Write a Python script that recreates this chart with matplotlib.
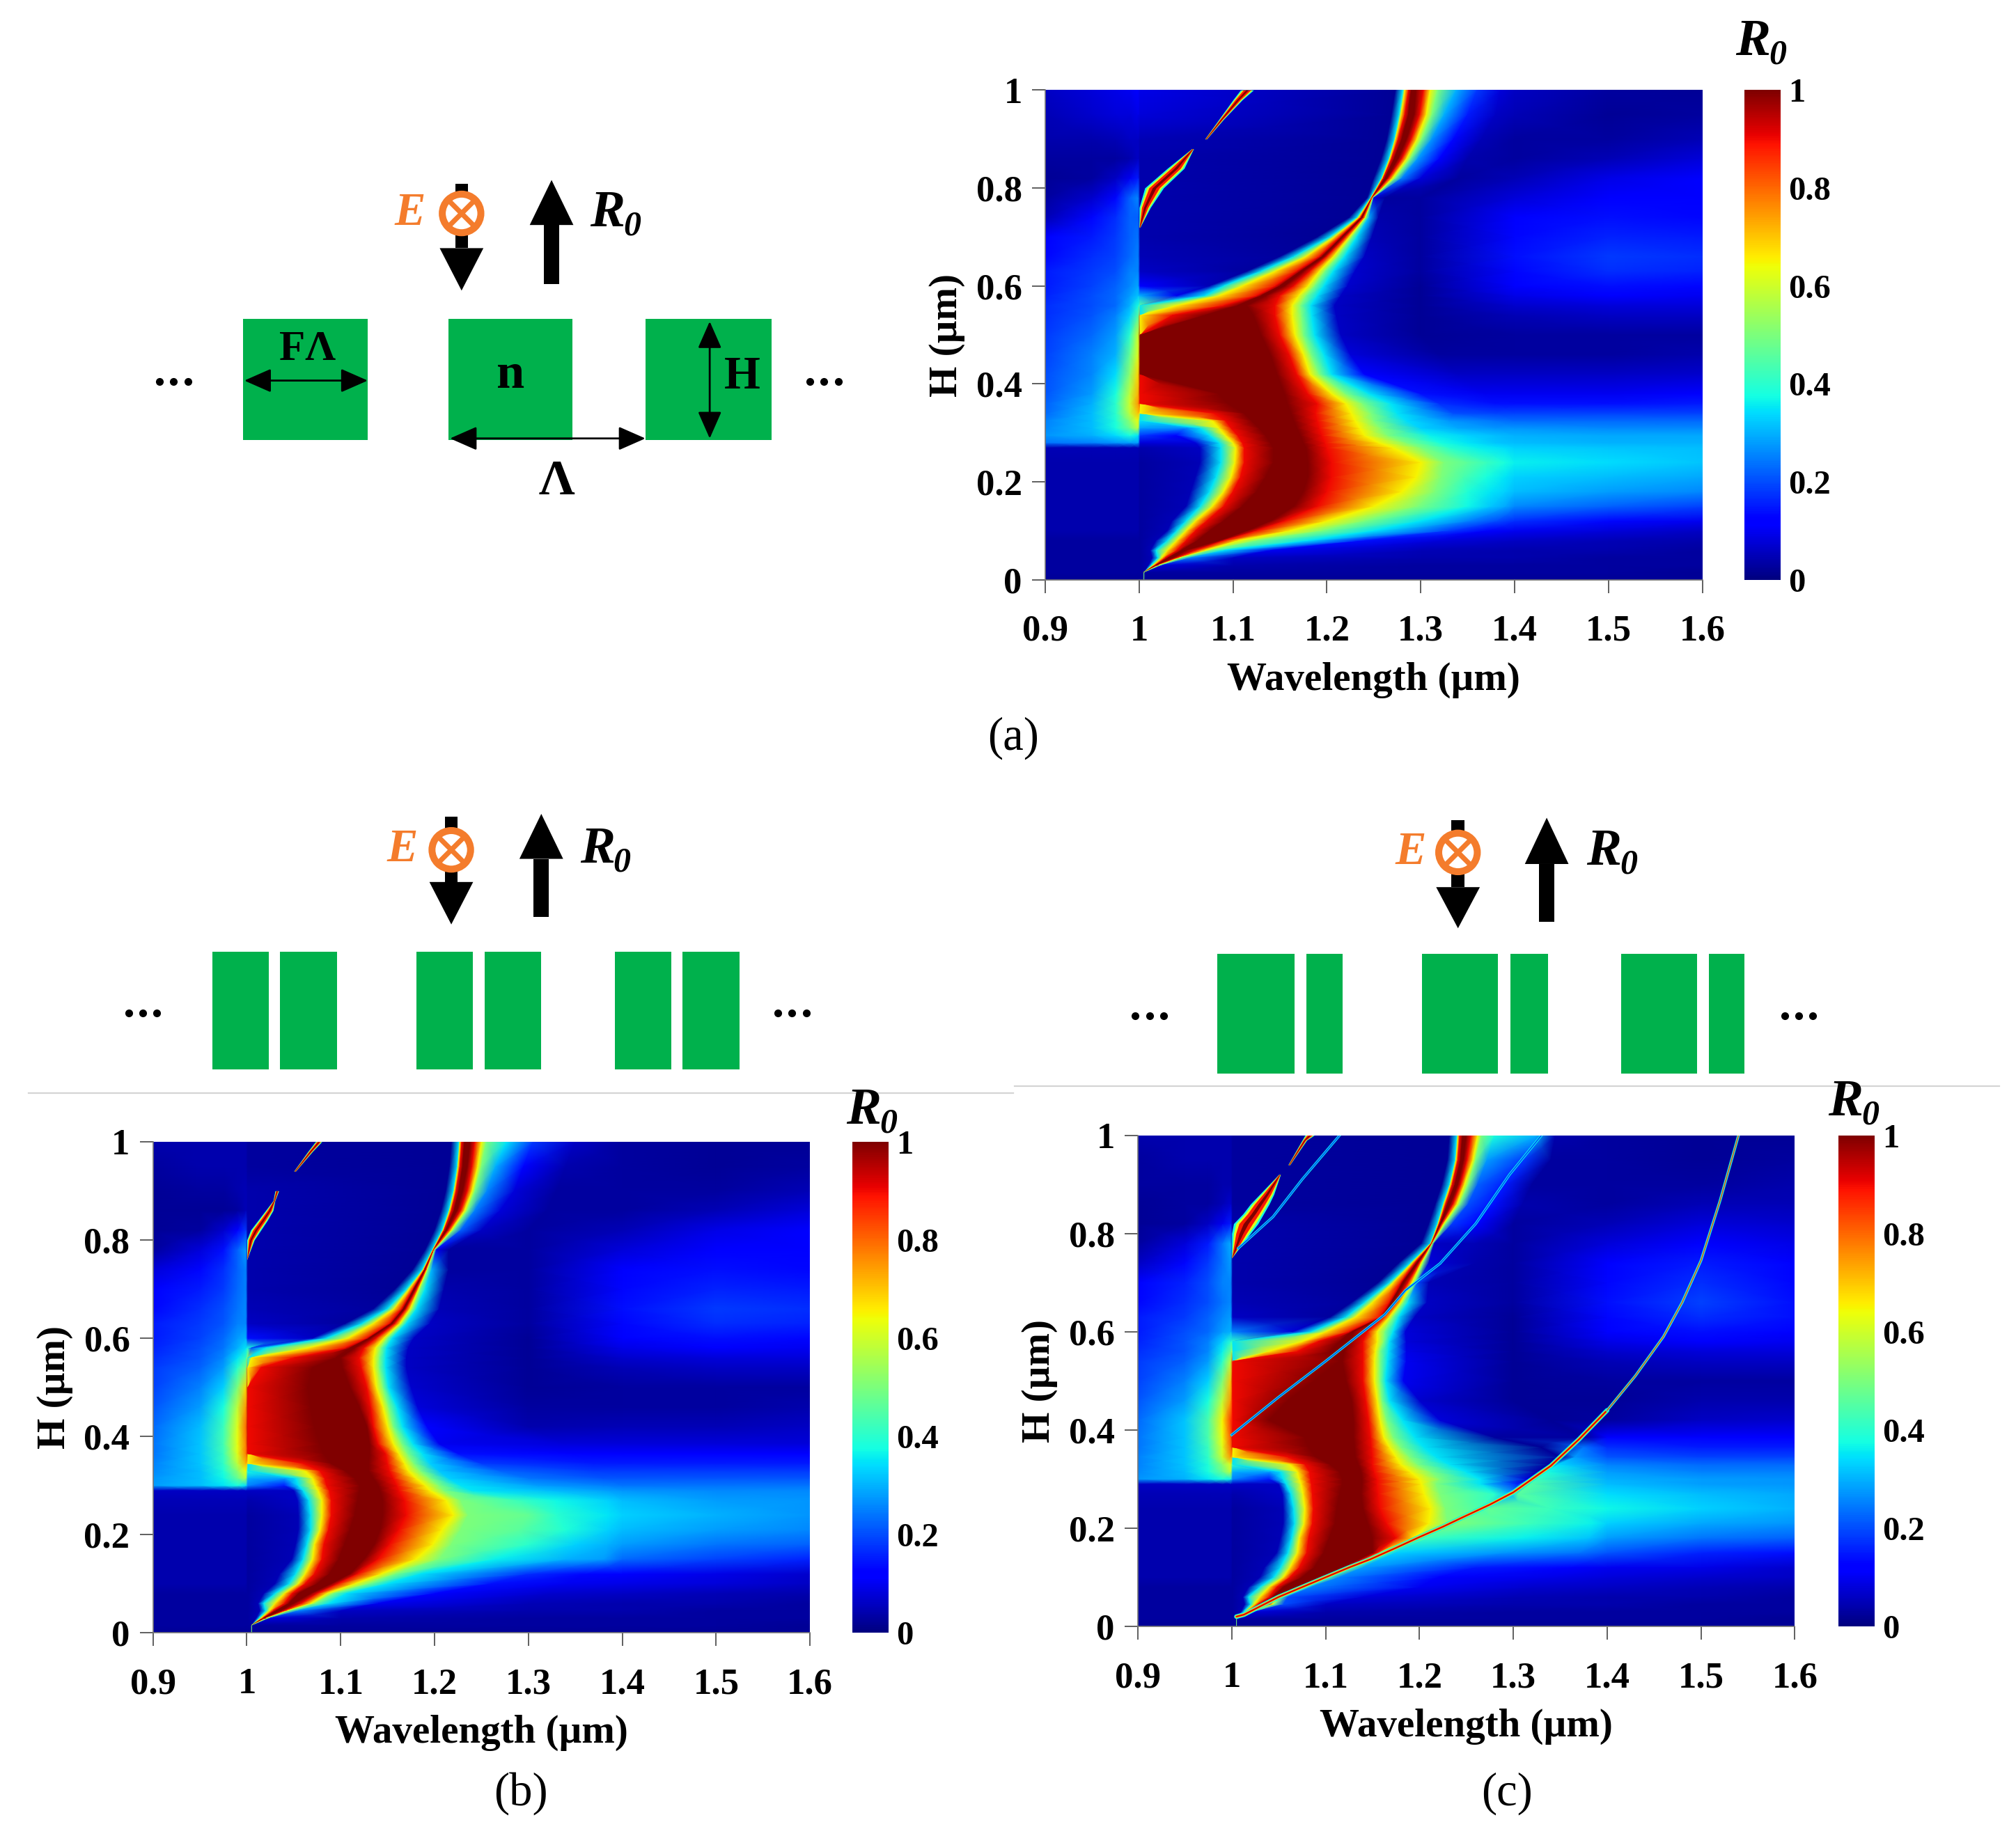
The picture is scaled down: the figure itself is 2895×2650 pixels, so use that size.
import numpy as np
import matplotlib
matplotlib.use("Agg")
import matplotlib.pyplot as plt
from matplotlib.patches import Rectangle, Polygon, Circle

plt.rcParams['font.family'] = ['Liberation Serif', 'DejaVu Serif']
plt.rcParams['font.weight'] = 'bold'
plt.rcParams['axes.labelweight'] = 'bold'

# H, R0 at left_lam, R0 at 1.001, R0 at first ridge knot,
# ridge knots (1000*(lam-1)) where R0 crosses ridge_levels,
# three free knots (1000*(lam-1), R0), R0 at field_lam
left_lam = [0.90, 0.95, 0.975, 0.99, 0.999]
ridge_levels = [35, 65, 90, 100, 100, 90, 65, 50]
field_lam = [1.40, 1.50, 1.60]

rows_a = [
    (0, [2, 2, 2, 2, 2], 2, 2, [5]*9, [6, 2, 100, 2, 300, 2], [2, 2, 2]),
    (.015, [3, 3, 3, 3, 3], 3, 3, [5]*9, [6, 3, 100, 3, 300, 3], [3, 3, 2]),
    (.03, [3, 3, 3, 3, 3], 3, 5, [10, 13, 15, 17, 18, 19, 20, 21, 22], [25, 8, 100, 4, 300, 3], [3, 3, 3]),
    (.045, [3, 3, 3, 3, 3], 3, 5, [14, 20, 24, 28, 31, 36, 40, 43, 45], [55, 25, 100, 6, 300, 4], [4, 3, 3]),
    (.06, [3, 3, 3, 3, 3], 3, 5, [12, 18, 30, 40, 45, 50, 60, 70, 75], [90, 35, 140, 10, 300, 5], [4, 4, 3]),
    (.08, [3, 3, 3, 3, 3], 3, 5, [18, 30, 40, 50, 62, 85, 90, 105, 125], [180, 35, 240, 14, 320, 8], [6, 5, 4]),
    (.10, [4, 4, 4, 4, 4], 3, 5, [30, 40, 50, 60, 75, 115, 125, 160, 195], [250, 35, 330, 18, 370, 12], [10, 8, 6]),
    (.12, [4, 4, 4, 4, 4], 3, 5, [35, 50, 60, 72, 90, 140, 155, 200, 240], [300, 35, 350, 25, 380, 20], [17, 13, 10]),
    (.15, [4, 4, 4, 4, 4], 3, 5, [50, 65, 78, 90, 110, 165, 190, 250, 297], [350, 37, 375, 32, 390, 29], [26, 22, 19]),
    (.18, [4, 4, 4, 4, 4], 3, 5, [55, 75, 90, 100, 125, 175, 200, 280, 315], [350, 39, 375, 35, 390, 33], [31, 28, 26]),
    (.21, [4, 4, 4, 4, 4], 3, 5, [60, 82, 98, 108, 135, 180, 205, 295, 322], [345, 44, 370, 38, 390, 35], [33, 31, 29]),
    (.24, [4, 4, 4, 4, 4], 3, 5, [65, 87, 102, 112, 143, 180, 205, 300, 325], [350, 46, 370, 42, 390, 38], [36, 34, 32]),
    (.27, [5, 5, 5, 5, 5], 4, 6, [65, 87, 103, 112, 143, 178, 200, 270, 300], [330, 40, 360, 36, 390, 34], [33, 32, 31]),
    (.28, [24, 25, 27, 28, 28], 8, 8, [60, 85, 100, 110, 140, 175, 198, 255, 285], [320, 38, 350, 35, 380, 32], [31, 30, 30]),
    (.295, [27, 30, 34, 38, 35], 18, 12, [40, 75, 92, 105, 135, 172, 195, 240, 265], [310, 36, 350, 33, 380, 31], [30, 29, 29]),
    (.31, [26, 31, 38, 48, 58], 28, 26, [50, 65, 85, 98, 128, 168, 192, 235, 258], [300, 33, 340, 29, 380, 27], [27, 26, 26]),
    (.325, [25, 31, 39, 52, 64], 35, 35, [1, 1, 78, 92, 120, 165, 190, 230, 250], [285, 34, 330, 27, 380, 24], [23, 23, 23]),
    (.34, [23, 31, 40, 58, 70], 65, 65, [1, 1, 1, 80, 112, 162, 188, 226, 247], [275, 35, 335, 20, 380, 19], [19, 19, 19]),
    (.36, [22, 30, 40, 60, 75], 90, 90, [1, 1, 1, 1, 95, 158, 190, 220, 238], [268, 35, 320, 17, 380, 14], [14, 14, 15]),
    (.38, [21, 28, 38, 58, 72], 95, 95, [1, 1, 1, 1, 85, 155, 180, 205, 220], [245, 35, 300, 14, 370, 10], [10, 10, 11]),
    (.42, [20, 26, 34, 52, 68], 100, 100, [1, 1, 1, 1, 1, 147, 168, 182, 192], [205, 35, 240, 12, 340, 6], [6, 6, 7]),
    (.46, [19, 25, 30, 47, 62], 100, 100, [1, 1, 1, 1, 1, 140, 160, 175, 183], [197, 35, 225, 8, 320, 3], [3, 3, 4]),
    (.50, [18, 23, 28, 40, 60], 100, 100, [1, 1, 1, 1, 1, 130, 150, 166, 175], [187, 35, 215, 6, 300, 2], [3, 3, 3]),
    (.54, [17, 21, 25, 33, 45], 80, 80, [1, 1, 1, 35, 70, 122, 145, 163, 173], [184, 35, 210, 6, 300, 2], [5, 6, 6]),
    (.56, [17, 20, 23, 30, 38], 45, 45, [1, 1, 40, 90, 105, 115, 145, 163, 172], [183, 35, 208, 6, 300, 2], [7, 8, 8]),
    (.58, [16, 20, 23, 28, 32], 30, 10, [40, 70, 85, 125, 130, 135, 150, 170, 178], [190, 35, 215, 6, 300, 2], [9, 11, 10]),
    (.60, [15, 19, 22, 26, 29], 12, 5, [75, 90, 110, 145, 150, 155, 165, 180, 187], [197, 35, 222, 7, 300, 2], [11, 14, 13]),
    (.63, [15, 18, 20, 25, 26], 6, 3, [115, 130, 145, 168, 172, 175, 182, 192, 198], [207, 35, 230, 7, 300, 3], [13, 17, 16]),
    (.66, [13, 17, 19, 23, 25], 5, 3, [150, 165, 178, 192, 195, 197, 200, 207, 212], [219, 35, 240, 6, 300, 3], [14, 18, 17]),
    (.70, [11, 15, 18, 22, 24], 4, 2, [190, 203, 208, 214, 216, 217, 220, 224, 227], [232, 35, 248, 5, 300, 3], [13, 16, 15]),
    (.74, [5, 13, 17, 22, 22], 4, 2, [224, 232, 234, 236, 237, 238, 239, 241, 242], [245, 30, 255, 4, 300, 3], [11, 14, 13]),
    (.78, [3, 7, 13, 22, 26], 4, 2, [243, 247, 247, 248, 248, 248, 248, 249, 249], [250, 8, 262, 3, 300, 3], [8, 12, 12]),
    (.82, [2, 3, 6, 10, 15], 4, 2, [250, 258, 259, 260, 262, 264, 266, 270, 273], [280, 25, 300, 8, 340, 3], [5, 9, 11]),
    (.86, [3, 3, 3, 4, 6], 4, 2, [258, 266, 267, 269, 272, 276, 280, 285, 289], [297, 28, 320, 12, 350, 4], [3, 5, 8]),
    (.90, [4, 4, 5, 6, 6], 5, 2, [264, 272, 273, 276, 280, 285, 290, 296, 301], [312, 27, 335, 13, 365, 5], [3, 3, 5]),
    (.95, [5, 7, 8, 8, 9], 8, 2, [269, 277, 279, 283, 287, 293, 299, 306, 312], [325, 30, 350, 15, 380, 6], [5, 2, 3]),
    (1.0, [6, 8, 9, 10, 11], 9, 2, [273, 281, 283, 287, 290, 295, 303, 310, 318], [338, 30, 360, 18, 385, 8], [6, 3, 2]),
]

rows_b = [
    (0, [2, 2, 2, 2, 2], 2, 2, [5]*9, [6, 2, 100, 2, 300, 2], [2, 2, 2]),
    (.015, [3, 3, 3, 3, 3], 3, 3, [5]*9, [6, 3, 100, 3, 300, 3], [3, 3, 2]),
    (.03, [3, 3, 3, 3, 3], 3, 5, [10, 13, 15, 17, 18, 19, 20, 21, 22], [25, 8, 100, 4, 300, 3], [3, 3, 3]),
    (.045, [3, 3, 3, 3, 3], 3, 5, [14, 20, 24, 28, 31, 36, 40, 43, 45], [55, 25, 100, 6, 300, 4], [4, 3, 3]),
    (.06, [3, 3, 3, 3, 3], 3, 5, [12, 18, 30, 40, 45, 50, 58, 68, 73], [88, 35, 140, 10, 300, 5], [4, 4, 3]),
    (.08, [3, 3, 3, 3, 3], 3, 5, [18, 30, 40, 48, 55, 68, 75, 85, 92], [106, 35, 200, 12, 320, 7], [6, 5, 4]),
    (.10, [4, 4, 4, 4, 4], 3, 5, [30, 45, 55, 62, 75, 90, 97, 115, 130], [150, 35, 260, 14, 340, 10], [9, 8, 6]),
    (.12, [4, 4, 4, 4, 4], 3, 5, [35, 52, 62, 72, 88, 110, 118, 143, 158], [185, 35, 300, 17, 360, 13], [11, 9, 7]),
    (.15, [4, 4, 4, 4, 4], 3, 5, [48, 60, 70, 80, 98, 125, 140, 180, 205], [265, 36, 340, 30, 380, 28], [23, 19, 16]),
    (.18, [4, 4, 4, 4, 4], 3, 5, [52, 64, 72, 82, 104, 136, 152, 198, 218], [300, 40, 350, 33, 385, 30], [28, 24, 22]),
    (.21, [4, 4, 4, 4, 4], 3, 5, [55, 68, 78, 87, 110, 142, 162, 208, 228], [290, 46, 340, 39, 385, 33], [31, 28, 26]),
    (.24, [4, 4, 4, 4, 4], 3, 5, [55, 68, 80, 90, 115, 145, 170, 220, 236], [300, 47, 330, 40, 385, 35], [33, 30, 27]),
    (.27, [5, 5, 5, 5, 5], 4, 6, [54, 66, 80, 90, 118, 145, 168, 212, 228], [290, 42, 330, 37, 385, 33], [31, 28, 27]),
    (.29, [6, 6, 6, 6, 6], 6, 6, [50, 60, 76, 88, 120, 142, 162, 195, 210], [240, 35, 320, 31, 385, 28], [27, 26, 26]),
    (.30, [28, 31, 35, 38, 34], 25, 15, [40, 55, 73, 85, 120, 140, 160, 190, 205], [228, 35, 310, 28, 380, 25], [24, 24, 24]),
    (.315, [27, 31, 37, 47, 56], 30, 28, [40, 52, 70, 83, 115, 135, 156, 180, 195], [215, 33, 300, 24, 380, 21], [21, 21, 21]),
    (.33, [26, 31, 39, 52, 64], 38, 38, [1, 1, 62, 78, 105, 130, 152, 172, 185], [205, 32, 270, 22, 370, 18], [18, 18, 18]),
    (.345, [25, 32, 41, 58, 72], 68, 68, [1, 1, 1, 60, 90, 130, 150, 168, 178], [195, 33, 250, 18, 370, 15], [15, 15, 15]),
    (.365, [24, 32, 42, 62, 78], 92, 92, [1, 1, 1, 1, 82, 131, 148, 162, 171], [187, 35, 225, 14, 350, 12], [12, 12, 12]),
    (.385, [24, 32, 43, 63, 78], 95, 95, [1, 1, 1, 1, 78, 131, 140, 156, 165], [177, 35, 205, 10, 340, 8], [8, 8, 8]),
    (.42, [23, 31, 42, 62, 80], 96, 96, [1, 1, 1, 1, 72, 128, 135, 150, 156], [166, 35, 192, 12, 300, 4], [5, 5, 6]),
    (.46, [21, 28, 38, 58, 75], 96, 96, [1, 1, 1, 1, 68, 120, 132, 145, 151], [160, 35, 182, 8, 300, 3], [3, 3, 4]),
    (.50, [19, 25, 33, 50, 68], 96, 96, [1, 1, 1, 1, 65, 110, 128, 138, 145], [151, 35, 175, 7, 300, 2], [3, 3, 3]),
    (.54, [18, 22, 28, 40, 50], 82, 82, [1, 1, 1, 15, 70, 102, 122, 135, 141], [148, 35, 170, 6, 300, 2], [5, 6, 6]),
    (.56, [17, 21, 26, 35, 42], 55, 55, [1, 1, 5, 50, 95, 100, 120, 135, 141], [148, 35, 170, 6, 300, 2], [7, 8, 8]),
    (.58, [16, 20, 24, 30, 35], 38, 20, [5, 20, 65, 105, 110, 115, 125, 137, 143], [149, 35, 172, 6, 300, 2], [9, 11, 10]),
    (.60, [15, 19, 23, 28, 30], 14, 6, [70, 85, 108, 128, 130, 132, 138, 146, 150], [155, 35, 178, 6, 300, 2], [11, 14, 13]),
    (.63, [15, 18, 21, 25, 26], 6, 3, [105, 123, 135, 152, 154, 155, 158, 163, 166], [170, 35, 195, 6, 300, 3], [13, 17, 16]),
    (.66, [13, 17, 20, 24, 26], 5, 3, [135, 150, 157, 165, 167, 168, 170, 174, 177], [181, 35, 205, 5, 300, 3], [14, 18, 17]),
    (.70, [11, 15, 18, 23, 25], 4, 2, [158, 170, 173, 177, 178, 179, 181, 183, 185], [190, 35, 210, 4, 300, 3], [13, 16, 15]),
    (.74, [8, 13, 17, 22, 25], 4, 2, [177, 187, 188, 189, 190, 190, 191, 192, 193], [197, 30, 215, 3, 300, 3], [11, 14, 13]),
    (.78, [3, 8, 14, 22, 28], 4, 2, [190, 198, 198, 199, 199, 199, 199, 200, 200], [202, 10, 215, 3, 300, 3], [8, 12, 12]),
    (.82, [2, 3, 7, 12, 18], 4, 2, [200, 208, 209, 210, 212, 213, 215, 218, 220], [228, 22, 250, 6, 300, 3], [5, 9, 11]),
    (.86, [2, 2, 2, 3, 5], 4, 2, [207, 215, 216, 218, 221, 224, 228, 232, 235], [243, 25, 270, 8, 320, 3], [3, 5, 8]),
    (.90, [2, 3, 3, 4, 5], 4, 2, [212, 220, 221, 223, 226, 230, 235, 240, 243], [256, 26, 285, 8, 330, 3], [3, 3, 5]),
    (.95, [3, 4, 4, 4, 4], 3, 2, [216, 224, 225, 227, 230, 235, 240, 246, 250], [265, 30, 295, 12, 340, 4], [3, 2, 3]),
    (1.0, [4, 4, 4, 4, 4], 3, 2, [218, 226, 227, 229, 232, 238, 243, 250, 255], [277, 35, 305, 18, 350, 6], [3, 2, 2]),
]

rows_c = [
    (0, [2, 2, 2, 2, 2], 2, 2, [5]*9, [6, 2, 100, 2, 300, 2], [2, 2, 2]),
    (.015, [3, 3, 3, 3, 3], 3, 3, [5]*9, [6, 3, 100, 3, 300, 3], [3, 3, 2]),
    (.03, [3, 3, 3, 3, 3], 3, 5, [10, 13, 15, 17, 18, 19, 20, 21, 22], [25, 8, 100, 4, 300, 3], [3, 3, 3]),
    (.045, [3, 3, 3, 3, 3], 3, 5, [14, 20, 24, 28, 31, 36, 40, 43, 45], [55, 20, 100, 6, 300, 4], [4, 3, 3]),
    (.06, [3, 3, 3, 3, 3], 3, 5, [12, 18, 30, 40, 44, 47, 49, 50, 51], [60, 20, 140, 8, 300, 5], [4, 4, 3]),
    (.08, [3, 3, 3, 3, 3], 3, 5, [18, 30, 40, 48, 55, 68, 72, 75, 76], [85, 25, 200, 10, 320, 7], [6, 5, 4]),
    (.10, [4, 4, 4, 4, 4], 3, 5, [30, 45, 55, 62, 75, 92, 97, 100, 101], [115, 25, 220, 12, 340, 9], [8, 7, 6]),
    (.12, [4, 4, 4, 4, 4], 3, 5, [35, 52, 62, 72, 88, 118, 122, 125, 126], [140, 28, 260, 15, 360, 12], [10, 9, 7]),
    (.15, [4, 4, 4, 4, 4], 3, 5, [48, 60, 70, 80, 98, 150, 155, 158, 160], [175, 33, 290, 27, 370, 24], [21, 16, 14]),
    (.18, [4, 4, 4, 4, 4], 3, 5, [52, 64, 72, 82, 104, 150, 175, 194, 197], [210, 42, 310, 36, 380, 32], [28, 24, 22]),
    (.21, [4, 4, 4, 4, 4], 3, 5, [55, 67, 77, 86, 110, 145, 165, 210, 230], [240, 50, 320, 42, 385, 36], [33, 29, 27]),
    (.24, [4, 4, 4, 4, 4], 3, 5, [55, 66, 78, 87, 112, 140, 158, 212, 228], [264, 44, 275, 47, 340, 42], [37, 33, 30]),
    (.27, [5, 5, 5, 5, 5], 4, 6, [54, 63, 76, 86, 115, 138, 156, 205, 222], [280, 40, 297, 30, 305, 46], [34, 31, 29]),
    (.29, [6, 6, 6, 6, 6], 6, 6, [50, 58, 74, 85, 118, 139, 155, 202, 218], [265, 35, 305, 15, 318, 45], [31, 28, 27]),
    (.30, [27, 30, 35, 38, 36], 25, 15, [40, 55, 72, 84, 118, 139, 155, 200, 222], [265, 35, 315, 8, 325, 42], [30, 28, 27]),
    (.315, [26, 31, 38, 48, 58], 30, 28, [40, 52, 70, 83, 115, 138, 152, 190, 212], [250, 35, 325, 4, 336, 38], [28, 25, 25]),
    (.33, [25, 32, 39, 52, 62], 40, 40, [1, 1, 62, 78, 105, 135, 150, 180, 198], [232, 35, 338, 3, 348, 34], [25, 23, 23]),
    (.345, [25, 32, 41, 60, 75], 70, 70, [1, 1, 1, 60, 90, 132, 150, 175, 190], [218, 35, 350, 3, 366, 28], [21, 19, 19]),
    (.365, [24, 32, 42, 62, 80], 92, 92, [1, 1, 1, 1, 82, 131, 149, 168, 180], [205, 35, 330, 2, 375, 24], [17, 15, 15]),
    (.385, [24, 32, 44, 64, 82], 95, 95, [1, 1, 1, 1, 78, 130, 148, 162, 172], [195, 35, 280, 3, 376, 3], [11, 11, 11]),
    (.42, [23, 32, 44, 65, 85], 88, 88, [1, 1, 1, 1, 40, 130, 146, 158, 165], [182, 35, 222, 8, 340, 2], [3, 6, 7]),
    (.46, [21, 28, 38, 58, 75], 90, 90, [1, 1, 1, 1, 60, 128, 143, 155, 160], [168, 35, 200, 7, 300, 2], [2, 4, 4]),
    (.50, [19, 25, 33, 50, 70], 94, 94, [1, 1, 1, 1, 88, 122, 140, 152, 158], [164, 35, 183, 10, 300, 2], [3, 3, 3]),
    (.54, [18, 22, 28, 40, 58], 90, 90, [1, 1, 1, 1, 115, 118, 140, 152, 158], [166, 35, 186, 10, 300, 2], [5, 6, 6]),
    (.56, [17, 21, 26, 36, 48], 60, 60, [1, 1, 40, 70, 105, 120, 140, 153, 158], [167, 35, 186, 9, 300, 2], [7, 8, 8]),
    (.58, [16, 21, 25, 33, 40], 40, 40, [1, 1, 75, 92, 115, 125, 140, 155, 162], [168, 35, 186, 8, 300, 2], [9, 11, 10]),
    (.60, [15, 20, 23, 28, 30], 25, 8, [65, 85, 100, 125, 128, 130, 145, 155, 163], [172, 35, 185, 8, 300, 2], [11, 14, 12]),
    (.63, [15, 18, 22, 26, 28], 6, 3, [105, 122, 132, 158, 160, 161, 162, 168, 172], [178, 35, 195, 6, 300, 2], [13, 17, 14]),
    (.66, [13, 17, 20, 24, 26], 5, 3, [128, 142, 150, 168, 170, 172, 175, 180, 183], [188, 35, 208, 6, 300, 3], [14, 19, 14]),
    (.70, [11, 16, 20, 25, 26], 4, 2, [156, 168, 172, 180, 182, 184, 188, 192, 195], [198, 20, 210, 5, 300, 3], [13, 17, 13]),
    (.74, [6, 13, 18, 24, 28], 4, 2, [178, 190, 192, 195, 197, 198, 200, 202, 204], [210, 8, 260, 4, 300, 3], [11, 15, 11]),
    (.78, [3, 8, 15, 24, 30], 4, 2, [202, 212, 212, 213, 213, 213, 213, 214, 214], [216, 6, 260, 5, 300, 3], [8, 12, 9]),
    (.82, [2, 3, 6, 10, 15], 4, 2, [210, 219, 220, 221, 222, 223, 224, 226, 228], [235, 18, 262, 12, 300, 3], [5, 8, 7]),
    (.86, [2, 3, 3, 5, 7], 3, 2, [217, 225, 226, 228, 230, 233, 236, 240, 243], [252, 20, 280, 14, 310, 4], [3, 5, 5]),
    (.90, [3, 3, 3, 4, 4], 3, 2, [224, 232, 233, 235, 238, 241, 244, 248, 252], [262, 22, 292, 15, 320, 3], [3, 3, 4]),
    (.95, [3, 4, 4, 4, 4], 3, 2, [230, 238, 239, 241, 244, 247, 251, 257, 260], [272, 28, 312, 18, 340, 3], [3, 2, 3]),
    (1.0, [4, 4, 4, 4, 4], 3, 2, [232, 240, 241, 243, 246, 250, 255, 262, 266], [280, 38, 325, 30, 345, 4], [3, 2, 2]),
]

# small bright leaves near lambda = 1: height, left edge, right edge
leaves_a = [
    ([.72, .76, .80, .84, .88], [1.0, 1.0, 1.006, 1.03, 1.056], [1.001, 1.012, 1.026, 1.048, 1.058]),
    ([.90, .94, .98, 1.0], [1.07, 1.085, 1.10, 1.108], [1.072, 1.09, 1.11, 1.122]),
]
leaves_b = [
    ([.76, .78, .80, .82, .84, .86, .88, .90], [1.0, 1.0, 1.0, 1.004, 1.012, 1.02, 1.028, 1.03],
     [1.0, 1.004, 1.008, 1.015, 1.022, 1.028, 1.03, 1.034]),
    ([.94, .98, 1.0], [1.05, 1.065, 1.073], [1.052, 1.07, 1.08]),
]
leaves_c = [
    ([.75, .78, .80, .82, .84, .86, .88, .92], [1.0, 1.0, 1.0, 1.002, 1.012, 1.02, 1.03, 1.05],
     [1.0, 1.012, 1.02, 1.028, 1.034, 1.04, 1.045, 1.052]),
    ([.94, .99, 1.0], [1.06, 1.075, 1.078], [1.062, 1.08, 1.088]),
]

# the thin resonance lines of panel (c)
c_line1_lam = [1.005, 1.013, 1.05, 1.075, 1.10, 1.125, 1.148, 1.175, 1.20, 1.225, 1.247, 1.275, 1.30, 1.32, 1.34, 1.37, 1.40]
c_line1_h = [.02, .024, .06, .08, .10, .12, .137, .16, .182, .203, .223, .248, .273, .30, .327, .381, .44]
c_line1b_lam = [1.40, 1.43, 1.46, 1.48, 1.50, 1.52, 1.54]
c_line1b_h = [.44, .51, .59, .66, .745, .865, 1.0]
c_line2_lam = [1.0, 1.05, 1.10, 1.163, 1.185, 1.222, 1.26, 1.296, 1.33]
c_line2_h = [.39, .467, .54, .635, .684, .739, .82, .92, 1.0]
c_line3_lam = [1.007, 1.044, 1.075, 1.115]
c_line3_h = [.77, .834, .91, 1.0]

x_ticks = [.9, 1, 1.1, 1.2, 1.3, 1.4, 1.5, 1.6]
x_labels = ['0.9', '1', '1.1', '1.2', '1.3', '1.4', '1.5', '1.6']
y_ticks = [0, .2, .4, .6, .8, 1]
y_labels = ['0', '0.2', '0.4', '0.6', '0.8', '1']

W, H = 2895, 2650
fig = plt.figure(figsize=(W/200, H/200), dpi=200, facecolor='white')
jet = plt.get_cmap('jet')
LAYERS = [(0.0, .38), (.10, .62), (.22, .88), (.40, 1.0)]


def make_axes(left, right, top, bottom):
    # pixel box of the reference (1568 wide view) -> figure fractions
    s = 1 / 1568
    t = 1 / 1435
    return fig.add_axes([left*s, 1 - bottom*t, (right - left)*s, (bottom - top)*t])


def build_mesh(rows):
    xs, ys, zs = [], [], []
    for h, left, z0, z1, ridge, free, field in rows:
        x = list(left_lam) + [1.001] + [1 + k/1000 for k in ridge] + [1 + k/1000 for k in free[0::2]] + list(field_lam)
        z = list(left) + [z0, z1] + ridge_levels + list(free[1::2]) + list(field)
        xs.append(x)
        ys.append([h]*len(x))
        zs.append(z)
    return np.array(xs), np.array(ys), np.array(zs) / 100


def draw_map(box, cbox, rows, leaves):
    ax = make_axes(*box)
    X, Y, Z = build_mesh(rows)
    mesh = ax.pcolormesh(X, Y, Z, cmap=jet, vmin=0, vmax=1, shading='gouraud')
    for h, l, r in leaves:
        l = np.array(l)
        r = np.array(r)
        for f, v in LAYERS:
            ax.fill_betweenx(h, l + f*(r - l), r - f*(r - l), color=jet(v), lw=0)
    ax.set_xlim(.9, 1.6)
    ax.set_ylim(0, 1)
    ax.set_xticks(x_ticks, x_labels)
    ax.set_yticks(y_ticks, y_labels)
    ax.tick_params(axis='x', length=7, width=.6, color='#444444', labelsize=19, pad=11)
    ax.tick_params(axis='y', length=7, width=.6, color='#444444', labelsize=19, pad=5)
    for sp in ['top', 'right']:
        ax.spines[sp].set_visible(False)
    for sp in ['left', 'bottom']:
        ax.spines[sp].set_color('#777777')
        ax.spines[sp].set_linewidth(.6)
    ax.set_xlabel('Wavelength (µm)', fontsize=20.5, labelpad=7)
    ax.set_ylabel('H (µm)', fontsize=20.5, labelpad=5.5)
    cax = make_axes(*cbox)
    cb = fig.colorbar(mesh, cax=cax, ticks=y_ticks)
    cb.set_ticklabels(y_labels)
    cb.outline.set_visible(False)
    cax.tick_params(length=0, labelsize=17.5, pad=4)
    return ax


ax_a = draw_map((813, 1324, 70, 451), (1357, 1385, 70, 451), rows_a, leaves_a)
ax_b = draw_map((119, 630, 888, 1270), (663, 691, 888, 1270), rows_b, leaves_b)
ax_c = draw_map((885, 1396, 883, 1265), (1430, 1458, 883, 1265), rows_c, leaves_c)

# resonance lines in (c)
for lw, v in [(2.4, .36), (1.5, .68), (.8, .92)]:
    ax_c.plot(c_line1_lam, c_line1_h, color=jet(v), lw=lw, solid_capstyle='round')
for lw, v in [(1.4, .38), (.5, .85)]:
    ax_c.plot(c_line1b_lam, c_line1b_h, color=jet(v), lw=lw)
for lw, v in [(1.3, .36), (.5, .18)]:
    ax_c.plot(c_line2_lam, c_line2_h, color=jet(v), lw=lw)
    ax_c.plot(c_line3_lam, c_line3_h, color=jet(v), lw=lw)

# overlay in the coordinates of the 1568 x 1435 view, for the sketches and captions
ov = fig.add_axes([0, 0, 1, 1], facecolor='none')
ov.set_xlim(0, 1568)
ov.set_ylim(1435, 0)
ov.axis('off')

GREEN = '#00B14C'
ORANGE = '#F47C2C'


def r_zero(x, y):
    ov.text(x, y, 'R', fontsize=27, style='italic', weight='bold', ha='left', va='center')
    ov.text(x + 26, y + 10, '0', fontsize=18, style='italic', weight='bold', ha='left', va='center')


def beam(e_x, cx, cy, top, head_top, head_tip, up_x, up_bottom, up_base, up_tip, r_x):
    ov.text(e_x, cy, 'E', color=ORANGE, fontsize=24, style='italic', weight='bold', ha='center', va='center')
    ov.add_patch(Rectangle((cx - 5, top), 10, head_top - top, color='black', lw=0))
    ov.add_patch(Polygon([(cx - 17, head_top), (cx + 17, head_top), (cx, head_tip)], color='black', lw=0))
    ov.add_patch(Circle((cx, cy), 15, fc='white', ec=ORANGE, lw=3.6, zorder=3))
    d = 10
    ov.plot([cx - d, cx + d], [cy - d, cy + d], color=ORANGE, lw=2.6, zorder=4)
    ov.plot([cx - d, cx + d], [cy + d, cy - d], color=ORANGE, lw=2.6, zorder=4)
    ov.add_patch(Rectangle((up_x - 6, up_base), 12, up_bottom - up_base, color='black', lw=0))
    ov.add_patch(Polygon([(up_x - 17, up_base), (up_x + 17, up_base), (up_x, up_tip)], color='black', lw=0))
    r_zero(r_x, cy)


def bars(spans, y0, y1):
    for x0, x1 in spans:
        ov.add_patch(Rectangle((x0, y0), x1 - x0, y1 - y0, color=GREEN, lw=0))


def dots(x, y):
    ov.plot([x - 11, x, x + 11], [y, y, y], ls='none', marker='o', ms=3, color='black')


def double_arrow(p0, p1):
    ov.annotate('', xy=p1, xytext=p0, arrowprops=dict(arrowstyle='<|-|>,head_length=.5,head_width=.22', color='black',
                                                      lw=1, shrinkA=0, shrinkB=0, mutation_scale=24))


# (a) sketch
beam(319, 359, 166, 143, 193, 226, 429, 221, 175, 140, 459)
bars([(189, 286), (349, 445), (502, 600)], 248, 342)
double_arrow((190, 296), (286, 296))
double_arrow((350, 341), (502, 341))
double_arrow((552, 250), (552, 341))
ov.text(239, 272, 'FΛ', fontsize=22, ha='center', va='center')
ov.text(397, 292, 'n', fontsize=26, ha='center', va='center')
ov.text(577, 293, 'H', fontsize=24, ha='center', va='center')
ov.text(433, 375, 'Λ', fontsize=26, ha='center', va='center')
dots(135, 297)
dots(641, 297)

# (b) sketch
beam(313, 351, 661, 635, 686, 719, 421, 713, 668, 633, 451)
bars([(165, 209), (218, 262), (324, 368), (377, 421), (478, 522), (531, 575)], 740, 832)
dots(111, 788)
dots(616, 788)

# (c) sketch
beam(1097, 1134, 663, 638, 690, 722, 1203, 717, 672, 636, 1234)
bars([(947, 1007), (1016, 1044), (1106, 1165), (1175, 1204), (1261, 1320), (1329, 1357)], 742, 835)
dots(894, 790)
dots(1399, 790)

# separators
ov.plot([22, 788], [850, 850], color='#d4d4d4', lw=.8)
ov.plot([789, 1555], [845, 845], color='#d4d4d4', lw=.8)

# colour bar titles and captions
r_zero(1350, 33)
r_zero(658, 864)
r_zero(1422, 858)
ov.text(788, 574, '(a)', fontsize=24, weight='normal', ha='center', va='center')
ov.text(405, 1395, '(b)', fontsize=24, weight='normal', ha='center', va='center')
ov.text(1172, 1395, '(c)', fontsize=24, weight='normal', ha='center', va='center')

fig.savefig('out.png', dpi=200)
